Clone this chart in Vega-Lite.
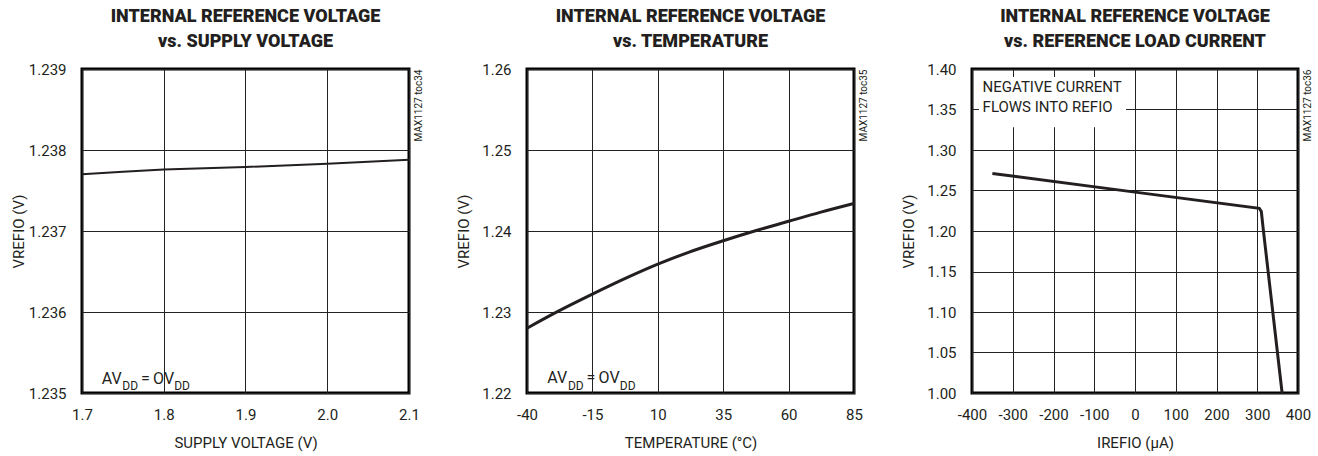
{
  "$schema": "https://vega.github.io/schema/vega-lite/v6.json",
  "background": "white",
  "padding": {"left": 9, "top": 6, "right": 2, "bottom": 2},
  "datasets": {
    "supply": [
      {"v": 1.7, "vref": 1.2377},
      {"v": 1.75, "vref": 1.23773},
      {"v": 1.8, "vref": 1.23776},
      {"v": 1.9, "vref": 1.23779},
      {"v": 2.0, "vref": 1.23783},
      {"v": 2.1, "vref": 1.23788}
    ],
    "temp": [
      {"t": -40, "vref": 1.2280},
      {"t": -28, "vref": 1.2301},
      {"t": -15, "vref": 1.2322},
      {"t": -2, "vref": 1.2342},
      {"t": 10, "vref": 1.2359},
      {"t": 22, "vref": 1.2374},
      {"t": 35, "vref": 1.2388},
      {"t": 47, "vref": 1.2400},
      {"t": 60, "vref": 1.2412},
      {"t": 72, "vref": 1.2423},
      {"t": 85, "vref": 1.2434}
    ],
    "load": [
      {"i": -350, "vref": 1.271},
      {"i": 0, "vref": 1.248},
      {"i": 305, "vref": 1.228},
      {"i": 310, "vref": 1.224},
      {"i": 315, "vref": 1.201},
      {"i": 361, "vref": 1.0}
    ],
    "ann1main": [
      {"x": 1.7241, "y": 1.235173, "txt": "AV"},
      {"x": 1.7722, "y": 1.235173, "txt": "="},
      {"x": 1.7869, "y": 1.235173, "txt": "OV"}
    ],
    "ann1sub": [
      {"x": 1.7493, "y": 1.235086, "txt": "DD"},
      {"x": 1.8128, "y": 1.235086, "txt": "DD"}
    ],
    "ann2main": [
      {"x": -32.24, "y": 1.22185, "txt": "AV"},
      {"x": -17.22, "y": 1.22185, "txt": "="},
      {"x": -12.63, "y": 1.22185, "txt": "OV"}
    ],
    "ann2sub": [
      {"x": -24.37, "y": 1.22086, "txt": "DD"},
      {"x": -4.53, "y": 1.22086, "txt": "DD"}
    ],
    "box3": [
      {"x": -383, "x2": -22, "y": 1.328, "y2": 1.390}
    ],
    "ann3": [
      {"x": -374, "y": 1.3778, "txt": "NEGATIVE CURRENT"},
      {"x": -374, "y": 1.3531, "txt": "FLOWS INTO REFIO"}
    ]
  },
  "bounds": "flush",
  "spacing": 118,
  "hconcat": [
    {
      "width": 327,
      "height": 324,
      "title": {"text": ["INTERNAL REFERENCE VOLTAGE", "vs. SUPPLY VOLTAGE"]},
      "resolve": {"axis": {"y": "independent"}},
      "layer": [
        {
          "data": {"name": "supply"},
          "mark": {"type": "line", "color": "#231f20", "strokeWidth": 2},
          "encoding": {
            "x": {"field": "v", "type": "quantitative", "title": "SUPPLY VOLTAGE (V)",
                  "scale": {"domain": [1.7, 2.1], "nice": false, "zero": false},
                  "axis": {"values": [1.7, 1.8, 1.9, 2.0, 2.1], "format": ".1f"}},
            "y": {"field": "vref", "type": "quantitative", "title": "VREFIO (V)",
                  "scale": {"domain": [1.235, 1.239], "nice": false, "zero": false},
                  "axis": {"values": [1.235, 1.236, 1.237, 1.238, 1.239], "format": ".3f"}}
          }
        },
        {
          "data": {"name": "ann1main"},
          "mark": {"type": "text", "align": "left", "baseline": "middle", "fontSize": 16, "color": "#231f20"},
          "encoding": {
            "x": {"field": "x", "type": "quantitative"},
            "y": {"field": "y", "type": "quantitative",
                  "axis": {"orient": "right", "labels": false, "grid": false, "ticks": false, "domain": false,
                           "title": "MAX1127 toc34", "titleFontSize": 10, "titleAngle": 270, "titleAnchor": "end",
                           "titleBaseline": "top", "titlePadding": 4, "minExtent": 0, "maxExtent": 0}},
            "text": {"field": "txt"}
          }
        },
        {
          "data": {"name": "ann1sub"},
          "mark": {"type": "text", "align": "left", "baseline": "middle", "fontSize": 12, "color": "#231f20"},
          "encoding": {
            "x": {"field": "x", "type": "quantitative"},
            "y": {"field": "y", "type": "quantitative", "axis": null},
            "text": {"field": "txt"}
          }
        }
      ]
    },
    {
      "width": 327,
      "height": 324,
      "title": {"text": ["INTERNAL REFERENCE VOLTAGE", "vs. TEMPERATURE"]},
      "resolve": {"axis": {"y": "independent"}},
      "layer": [
        {
          "data": {"name": "temp"},
          "mark": {"type": "line", "color": "#231f20", "strokeWidth": 3, "interpolate": "monotone"},
          "encoding": {
            "x": {"field": "t", "type": "quantitative", "title": "TEMPERATURE (°C)",
                  "scale": {"domain": [-40, 85], "nice": false, "zero": false},
                  "axis": {"values": [-40, -15, 10, 35, 60, 85], "labelExpr": "replace(datum.label, '−', '-')"}},
            "y": {"field": "vref", "type": "quantitative", "title": "VREFIO (V)",
                  "scale": {"domain": [1.22, 1.26], "nice": false, "zero": false},
                  "axis": {"values": [1.22, 1.23, 1.24, 1.25, 1.26], "format": ".2f"}}
          }
        },
        {
          "data": {"name": "ann2main"},
          "mark": {"type": "text", "align": "left", "baseline": "middle", "fontSize": 16, "color": "#231f20"},
          "encoding": {
            "x": {"field": "x", "type": "quantitative"},
            "y": {"field": "y", "type": "quantitative",
                  "axis": {"orient": "right", "labels": false, "grid": false, "ticks": false, "domain": false,
                           "title": "MAX1127 toc35", "titleFontSize": 10, "titleAngle": 270, "titleAnchor": "end",
                           "titleBaseline": "top", "titlePadding": 4, "minExtent": 0, "maxExtent": 0}},
            "text": {"field": "txt"}
          }
        },
        {
          "data": {"name": "ann2sub"},
          "mark": {"type": "text", "align": "left", "baseline": "middle", "fontSize": 12, "color": "#231f20"},
          "encoding": {
            "x": {"field": "x", "type": "quantitative"},
            "y": {"field": "y", "type": "quantitative", "axis": null},
            "text": {"field": "txt"}
          }
        }
      ]
    },
    {
      "width": 326,
      "height": 324,
      "title": {"text": ["INTERNAL REFERENCE VOLTAGE", "vs. REFERENCE LOAD CURRENT"]},
      "resolve": {"axis": {"y": "independent"}},
      "layer": [
        {
          "data": {"name": "box3"},
          "mark": {"type": "rect", "fill": "white", "stroke": null},
          "encoding": {
            "x": {"field": "x", "type": "quantitative", "title": "IREFIO (μA)",
                  "scale": {"domain": [-400, 400], "nice": false, "zero": false},
                  "axis": {"values": [-400, -300, -200, -100, 0, 100, 200, 300, 400], "labelExpr": "replace(datum.label, '−', '-')"}},
            "x2": {"field": "x2"},
            "y": {"field": "y", "type": "quantitative", "title": "VREFIO (V)",
                  "scale": {"domain": [1.0, 1.4], "nice": false, "zero": false},
                  "axis": {"values": [1.0, 1.05, 1.1, 1.15, 1.2, 1.25, 1.3, 1.35, 1.4], "format": ".2f"}},
            "y2": {"field": "y2"}
          }
        },
        {
          "data": {"name": "ann3"},
          "mark": {"type": "text", "align": "left", "baseline": "middle", "fontSize": 15, "color": "#231f20"},
          "encoding": {
            "x": {"field": "x", "type": "quantitative"},
            "y": {"field": "y", "type": "quantitative",
                  "axis": {"orient": "right", "labels": false, "grid": false, "ticks": false, "domain": false,
                           "title": "MAX1127 toc36", "titleFontSize": 10, "titleAngle": 270, "titleAnchor": "end",
                           "titleBaseline": "top", "titlePadding": 4, "minExtent": 0, "maxExtent": 0}},
            "text": {"field": "txt"}
          }
        },
        {
          "data": {"name": "load"},
          "mark": {"type": "line", "color": "#231f20", "strokeWidth": 3},
          "encoding": {
            "x": {"field": "i", "type": "quantitative"},
            "y": {"field": "vref", "type": "quantitative", "axis": null}
          }
        }
      ]
    }
  ],
  "config": {
    "font": "Roboto",
    "view": {"stroke": "black", "strokeWidth": 3},
    "axis": {
      "grid": true, "gridColor": "#222222", "gridWidth": 1, "gridOpacity": 1,
      "domain": false, "ticks": false,
      "labelFont": "Roboto", "labelFontSize": 15, "labelColor": "#231f20",
      "labelFlush": false, "labelOverlap": false,
      "titleFont": "Roboto", "titleFontSize": 15, "titleFontWeight": "normal", "titleColor": "#231f20"
    },
    "axisX": {"labelPadding": 14, "minExtent": 30, "maxExtent": 30, "titlePadding": 12},
    "axisY": {"labelPadding": 16, "minExtent": 44, "maxExtent": 44, "titlePadding": 12},
    "title": {"font": "Roboto", "fontSize": 18, "fontWeight": 900, "anchor": "middle", "lineHeight": 25, "offset": 11, "color": "#231f20"}
  }
}
